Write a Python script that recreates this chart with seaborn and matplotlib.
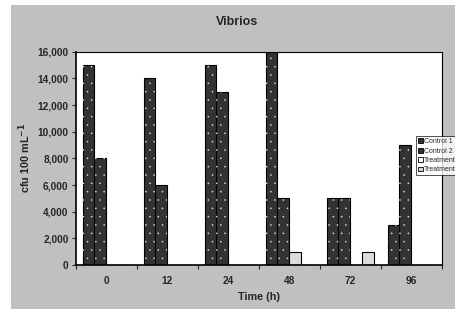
import seaborn as sns
import matplotlib.pyplot as plt
import matplotlib.ticker as mticker
from matplotlib.patches import Rectangle
import pandas as pd

sns.set_style("white")
plt.rcParams['font.family'] = ['Liberation Sans', 'DejaVu Sans']
plt.rcParams['hatch.linewidth'] = 0.0

times = ["0", "12", "24", "48", "72", "96"]
series = ["Control 1", "Control 2", "Treatment", "Treatment "]
control1 = [15000, 14000, 15000, 16000, 5000, 3000]
control2 = [8000, 6000, 13000, 5000, 5000, 9000]
treatment1 = [0, 0, 0, 1000, 0, 0]
treatment2 = [0, 0, 0, 0, 1000, 0]
colors = ["#333333", "#333333", "#ffffff", "#d4d4d4"]

rows = []
for s, vals in zip(series, [control1, control2, treatment1, treatment2]):
    for t, v in zip(times, vals):
        rows.append([t, s, v])
df = pd.DataFrame(rows, columns=["Time", "Series", "cfu"])

fig = plt.figure(figsize=(4.56, 3.09), dpi=100)
fig.patch.set_facecolor("white")
fig.add_artist(Rectangle((11 / 456, 0), 1, 1 - 5 / 309, transform=fig.transFigure,
                         facecolor="#c0c0c0", edgecolor="none", zorder=0))
ax = fig.add_axes([0.1656, 0.1424, 0.803, 0.690])
ax.set_facecolor("white")

sns.barplot(data=df, x="Time", y="cfu", hue="Series", palette=colors,
            width=0.77, gap=0, edgecolor="black", linewidth=0.8,
            legend=False, ax=ax, zorder=2)

# white dot pattern on the control bars
n = len(times)
for i, p in enumerate(ax.patches[:2 * n]):
    if p.get_height() > 0:
        r = Rectangle(p.get_xy(), p.get_width(), p.get_height(), facecolor="none",
                      edgecolor="#dddddd", linewidth=0, hatch="..", zorder=3)
        ax.add_patch(r)
for p in ax.patches[2 * n:4 * n]:
    if p.get_height() > 0:
        p.set_facecolor("#dcdcdc")

ax.set_ylim(0, 16000)
ax.set_xlim(-0.5, n - 0.5)
ax.yaxis.set_major_locator(mticker.MultipleLocator(2000))
ax.yaxis.set_major_formatter(mticker.StrMethodFormatter("{x:,.0f}"))
ax.set_xticks(range(n))
ax.set_xticklabels(times)
ax.set_xticks([i - 0.5 for i in range(n + 1)], minor=True)
ax.tick_params(axis="x", which="major", length=0, pad=8)
ax.tick_params(axis="x", which="minor", length=3, width=0.8, direction="out", bottom=True)
ax.tick_params(axis="y", length=3, width=0.8, direction="out", left=True, pad=2)
for lab in ax.get_xticklabels() + ax.get_yticklabels():
    lab.set_fontsize(7.3)
    lab.set_fontweight("bold")
for s in ax.spines.values():
    s.set_visible(True)
    s.set_color("black")
    s.set_linewidth(0.8)
ax.spines["left"].set_linewidth(1.2)
ax.spines["bottom"].set_linewidth(1.2)

fig.text(237 / 456, 1 - 22 / 309, "Vibrios", fontsize=9, fontweight="bold",
         ha="center", va="center")
ax.set_xlabel("Time (h)", fontsize=7.8, fontweight="bold", labelpad=4)
ax.set_ylabel("cfu 100 mL$^{\\mathbf{-1}}$", fontsize=7.8, fontweight="bold", labelpad=3)

handles = [Rectangle((0, 0), 1, 1, facecolor=c, edgecolor="black", linewidth=0.6)
           for c in colors]
leg = fig.legend(handles, ["Control 1", "Control 2", "Treatment", "Treatment"],
                 loc="upper left", bbox_to_anchor=(416 / 456, 1 - 136 / 309),
                 bbox_transform=fig.transFigure, fontsize=5, frameon=True,
                 fancybox=False, edgecolor="black", borderpad=0.3,
                 handlelength=0.7, handleheight=0.7, handletextpad=0.2,
                 labelspacing=0.35, borderaxespad=0)
leg.get_frame().set_linewidth(0.6)

plt.savefig("out.png", dpi=100)
plt.close()
